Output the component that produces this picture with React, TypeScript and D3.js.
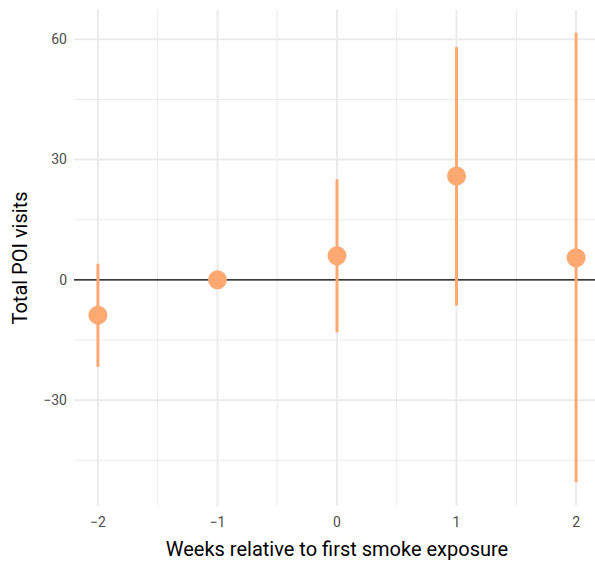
import React, { useEffect, useRef } from "react";
import * as d3 from "d3";

// event-study estimates
const weeks = [-2, -1, 0, 1, 2];
const estimates = [-8.8, 0, 6.0, 25.9, 5.5];
const lowerCI = [-21.7, null, -13.1, -6.4, -50.5];
const upperCI = [4.0, null, 25.1, 58.1, 61.6];

const yTicks = [-30, 0, 30, 60];
const yMinor = [-45, -15, 15, 45];
const xMinor = [-1.5, -0.5, 0.5, 1.5];

const FONT = "'Liberation Sans Narrow', 'Roboto', 'DejaVu Sans Condensed', sans-serif";
const ORANGE = "#fea872";

export default function App() {
  const svgRef = useRef<SVGSVGElement>(null);

  useEffect(() => {
    const width = 595;
    const height = 561;
    const svg = d3.select(svgRef.current);
    svg.selectAll("*").remove();
    svg.attr("width", width).attr("height", height);

    const panel = { left: 74, right: 600, top: 10, bottom: 506 };

    const x = d3.scaleLinear().domain([-2.2, 2.2]).range([panel.left, panel.right]);
    const y = d3.scaleLinear().domain([-56.4, 67.3]).range([panel.bottom, panel.top]);

    const g = svg.append("g");

    // minor grid
    g.selectAll(".ymin").data(yMinor).enter().append("line")
      .attr("x1", panel.left).attr("x2", panel.right)
      .attr("y1", d => y(d)).attr("y2", d => y(d))
      .attr("stroke", "#ebebeb").attr("stroke-width", 1);
    g.selectAll(".xmin").data(xMinor).enter().append("line")
      .attr("y1", panel.top).attr("y2", panel.bottom)
      .attr("x1", d => x(d)).attr("x2", d => x(d))
      .attr("stroke", "#ebebeb").attr("stroke-width", 1);

    // major grid
    g.selectAll(".ymaj").data(yTicks).enter().append("line")
      .attr("x1", panel.left).attr("x2", panel.right)
      .attr("y1", d => y(d)).attr("y2", d => y(d))
      .attr("stroke", "#ebebeb").attr("stroke-width", 2);
    g.selectAll(".xmaj").data(weeks).enter().append("line")
      .attr("y1", panel.top).attr("y2", panel.bottom)
      .attr("x1", d => x(d)).attr("x2", d => x(d))
      .attr("stroke", "#ebebeb").attr("stroke-width", 2);

    // zero reference line
    g.append("line")
      .attr("x1", panel.left).attr("x2", panel.right)
      .attr("y1", y(0)).attr("y2", y(0))
      .attr("stroke", "#000").attr("stroke-width", 1.3);

    const rows = weeks.map((w, i) => ({ w, est: estimates[i], lo: lowerCI[i], hi: upperCI[i] }));

    // error bars
    g.selectAll(".err").data(rows.filter(d => d.lo !== null)).enter().append("line")
      .attr("x1", d => x(d.w)).attr("x2", d => x(d.w))
      .attr("y1", d => y(d.lo as number)).attr("y2", d => y(d.hi as number))
      .attr("stroke", ORANGE).attr("stroke-width", 3);

    // points
    g.selectAll(".pt").data(rows).enter().append("circle")
      .attr("cx", d => x(d.w)).attr("cy", d => y(d.est))
      .attr("r", 9.5).attr("fill", ORANGE);

    // tick labels
    g.selectAll(".ylab").data(yTicks).enter().append("text")
      .attr("x", 67).attr("y", d => y(d)).attr("dy", "0.35em")
      .attr("text-anchor", "end")
      .attr("font-family", FONT).attr("font-size", 14).attr("fill", "#4d4d4d")
      .text(d => d3.format("")(d).replace("-", "\u2212"));
    g.selectAll(".xlab").data(weeks).enter().append("text")
      .attr("x", d => x(d)).attr("y", 527)
      .attr("text-anchor", "middle")
      .attr("font-family", FONT).attr("font-size", 14).attr("fill", "#4d4d4d")
      .text(d => String(d).replace("-", "\u2212"));

    // axis titles
    g.append("text")
      .attr("x", (panel.left + 600) / 2).attr("y", 556)
      .attr("text-anchor", "middle")
      .attr("font-family", FONT).attr("font-size", 20).attr("fill", "#000")
      .text("Weeks relative to first smoke exposure");
    g.append("text")
      .attr("transform", `translate(27, ${(panel.top + panel.bottom) / 2}) rotate(-90)`)
      .attr("text-anchor", "middle")
      .attr("font-family", FONT).attr("font-size", 20).attr("fill", "#000")
      .text("Total POI visits");
  }, []);

  return (
    <div style={{ position: "absolute", left: 0, top: 0 }}>
      <svg ref={svgRef}></svg>
    </div>
  );
}
